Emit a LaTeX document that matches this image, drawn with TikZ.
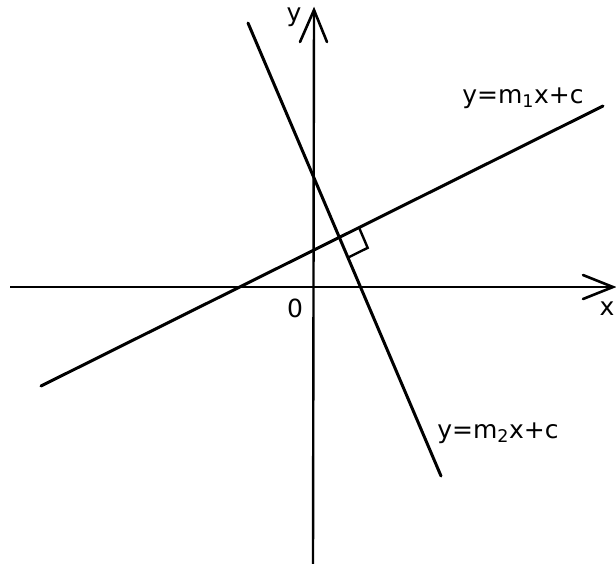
\documentclass[tikz,border=0pt]{standalone}
\usepackage{fontspec}
\setmainfont{DejaVu Sans}
\usetikzlibrary{calc}
\begin{document}
\begin{tikzpicture}[x=1pt,y=-1pt,
  axis/.style={line width=2.4pt,black},
  graphline/.style={line width=3pt,black,line cap=round},
  tiplines/.style={line width=2.6pt,black,line cap=round,line join=miter},
  lbl/.style={font=\fontsize{25}{28}\selectfont,inner sep=0pt,anchor=base}]
\useasboundingbox (0,0) rectangle (616,563);
% axes
\coordinate (yb) at (313,565);
\coordinate (yt) at (314,10);
\coordinate (ya1) at (300,42);
\coordinate (ya2) at (327,42);
\coordinate (xl) at (10,287);
\coordinate (xr) at (613,287);
\coordinate (xa1) at (583,275);
\coordinate (xa2) at (583,299);
\draw[axis] (yb) -- (yt);
\draw[axis] (xl) -- (xr);
\draw[tiplines] (ya1) -- (yt) -- (ya2);
\draw[tiplines] (xa1) -- (xr) -- (xa2);
% lines
\coordinate (a1) at (41,386);
\coordinate (a2) at (603,106);
\coordinate (b1) at (248,23);
\coordinate (b2) at (441,476);
\draw[graphline] (a1) -- (a2);
\draw[graphline] (b1) -- (b2);
% right angle
\coordinate (P) at (intersection of a1--a2 and b1--b2);
\coordinate (r1) at ($(P)!22pt!(a2)$);
\coordinate (r3) at ($(P)!22pt!(b2)$);
\coordinate (r2) at ($(r1)+(r3)-(P)$);
\draw[line width=2.4pt,black] (r1) -- (r2) -- (r3);
% labels
\node[lbl] (ylab) at (294,21) {y};
\node[lbl] (xlab) at (607,315) {x};
\node[lbl] (olab) at (295,317) {0};
\node[lbl] (l1) at (523,103) {y=m\textsubscript{1}x+c};
\node[lbl] (l2) at (498,438) {y=m\textsubscript{2}x+c};
\end{tikzpicture}
\end{document}
